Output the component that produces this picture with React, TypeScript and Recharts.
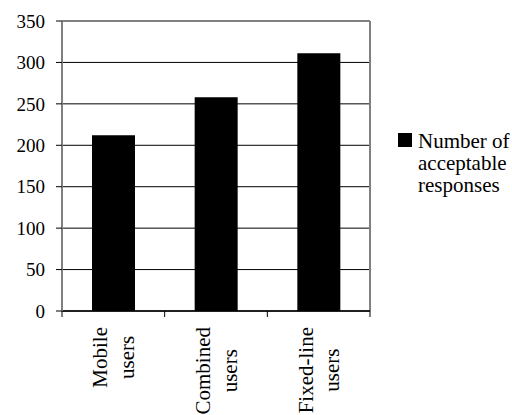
import React from 'react';
import { BarChart, Bar, XAxis, YAxis, CartesianGrid } from 'recharts';

const categories = ['Mobile users', 'Combined users', 'Fixed-line users'];
const responses = [212, 258, 311];
const yTicks = [0, 50, 100, 150, 200, 250, 300, 350];
const seriesName = 'Number of acceptable responses';
const legendLines = ['Number of', 'acceptable', 'responses'];

const FONT = "'Liberation Serif', serif";

const data = categories.map((name, i) => ({ name, value: responses[i] }));

// measure text so the longest line of each rotated label starts right under the axis
let ctx: CanvasRenderingContext2D | null = null;
const textWidth = (s: string, size: number) => {
  if (!ctx) ctx = document.createElement('canvas').getContext('2d');
  if (!ctx) return s.length * size * 0.5;
  ctx.font = `${size}px ${FONT}`;
  return ctx.measureText(s).width;
};

const CategoryTick = (props: any) => {
  const { x, y, payload, index, visibleTicksCount } = props;
  const half = payload.offset || 0;
  const axisY = y - 8;
  const words: string[] = String(payload.value).split(' ');
  const lines = [words.slice(0, -1).join(' '), words[words.length - 1]];
  const size = 21;
  const longest = Math.max(...lines.map((l) => textWidth(l, size)));
  const cy = y + 8 + longest / 2;
  const offsets = [-6, 20.5];
  const marks = [x - half];
  if (index === visibleTicksCount - 1) marks.push(x + half);
  return (
    <g>
      {marks.map((mx, i) => (
        <line key={'m' + i} x1={mx} x2={mx} y1={axisY} y2={axisY + 6} stroke="#000" strokeWidth={1} />
      ))}
      {lines.map((line, i) => (
        <text
          key={i}
          x={0}
          y={0}
          transform={`translate(${x + offsets[i]}, ${cy}) rotate(-90)`}
          textAnchor="middle"
          fontSize={size}
          fontFamily={FONT}
          fill="#000"
        >
          {line}
        </text>
      ))}
    </g>
  );
};

// plot-area border on the top and right, taken from the chart's own offset
const rightEdge = ({ offset }: any) => [offset.left + offset.width];
const topEdge = ({ offset }: any) => [offset.top];

export default function App() {
  return (
    <div style={{ position: 'absolute', left: 0, top: 0, width: 512, height: 415, background: '#fff' }}>
      <BarChart
        width={512}
        height={415}
        data={data}
        margin={{ top: 21, right: 142, left: 0, bottom: 0 }}
        style={{ fontFamily: FONT }}
      >
        <CartesianGrid vertical={false} stroke="#000" strokeWidth={1} />
        <CartesianGrid
          verticalCoordinatesGenerator={rightEdge}
          horizontalCoordinatesGenerator={topEdge}
          stroke="#808080"
          strokeWidth={2}
        />
        <XAxis
          dataKey="name"
          interval={0}
          height={104}
          axisLine={{ stroke: '#000', strokeWidth: 1.5 }}
          tickLine={false}
          tick={<CategoryTick />}
        />
        <YAxis
          type="number"
          domain={[0, 350]}
          ticks={yTicks}
          width={62}
          axisLine={{ stroke: '#808080', strokeWidth: 2 }}
          tickLine={{ stroke: '#000' }}
          tickSize={6}
          tickMargin={11}
          tick={{ fontSize: 19, fill: '#000', fontFamily: FONT }}
        />
        <Bar
          dataKey="value"
          name={seriesName}
          fill="#000"
          barSize={43}
          isAnimationActive={false}
        />
      </BarChart>
      <div style={{ position: 'absolute', left: 398, top: 133, width: 14, height: 14, background: '#000' }} />
      <div
        style={{
          position: 'absolute',
          left: 418,
          top: 130,
          fontFamily: FONT,
          fontSize: 21,
          lineHeight: '22px',
          color: '#000',
          whiteSpace: 'nowrap',
        }}
      >
        {legendLines.map((l) => (
          <div key={l}>{l}</div>
        ))}
      </div>
    </div>
  );
}
